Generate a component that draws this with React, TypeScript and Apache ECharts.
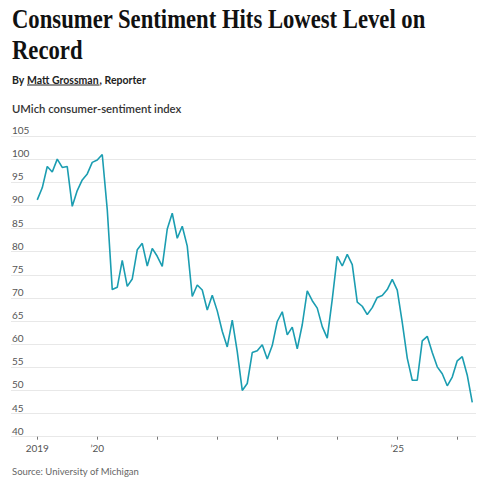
import React, { useEffect, useRef } from "react";
import * as echarts from "echarts";

// Monthly UMich consumer-sentiment index, Jan 2019 – Apr 2026
const startYear = 2019;
const values2019 = [91.2, 93.8, 98.4, 97.2, 100.0, 98.2, 98.4, 89.8, 93.2, 95.5, 96.8, 99.3];
const values2020 = [99.8, 101.0, 89.1, 71.8, 72.3, 78.1, 72.5, 74.1, 80.4, 81.8, 76.9, 80.7];
const values2021 = [79.0, 76.8, 84.9, 88.3, 82.9, 85.5, 81.2, 70.3, 72.8, 71.7, 67.4, 70.6];
const values2022 = [67.2, 62.8, 59.4, 65.2, 58.4, 50.0, 51.5, 58.2, 58.6, 59.9, 56.8, 59.7];
const values2023 = [64.9, 67.0, 62.0, 63.7, 59.0, 64.2, 71.5, 69.4, 67.8, 63.8, 61.3, 69.7];
const values2024 = [79.0, 76.9, 79.4, 77.2, 69.1, 68.2, 66.4, 67.9, 70.1, 70.5, 71.8, 74.0];
const values2025 = [71.7, 64.7, 57.0, 52.2, 52.2, 60.7, 61.7, 58.2, 55.1, 53.6, 51.0, 52.9];
const values2026 = [56.4, 57.3, 53.3, 47.4];

const yearTicks = [2019, 2020, 2021, 2022, 2023, 2024, 2025, 2026];
const yearLabels: Record<number, string> = { 2019: "2019", 2020: "\u201920", 2025: "\u201925" };
const yTicks = [40, 45, 50, 55, 60, 65, 70, 75, 80, 85, 90, 95, 100, 105];

const title1 = "Consumer Sentiment Hits Lowest Level on";
const title2 = "Record";
const bylinePrefix = "By ";
const bylineName = "Matt Grossman";
const bylineSuffix = ", Reporter";
const subtitle = "UMich consumer-sentiment index";
const source = "Source: University of Michigan";

const LINE_COLOR = "#1b9db1";
const SANS = "Lato, 'Noto Sans', sans-serif";

export default function App() {
  const ref = useRef<HTMLDivElement>(null);

  useEffect(() => {
    document.body.style.margin = "0";
    if (!ref.current) return;
    const chart = echarts.init(ref.current, undefined, { renderer: "svg" });

    const allValues = [
      ...values2019, ...values2020, ...values2021, ...values2022,
      ...values2023, ...values2024, ...values2025, ...values2026,
    ];
    const data = allValues.map((v, i) => [i, v]);
    const tickMonths = yearTicks.map((y) => (y - startYear) * 12);
    const labelMonths = tickMonths.filter((m) => yearLabels[startYear + m / 12] !== undefined);

    const titleStyle = {
      fontFamily: "'Liberation Serif', serif",
      fontWeight: "bold",
      fontSize: 28,
      fill: "#111",
      verticalAlign: "top",
    };
    const bylineStyle = { fontFamily: SANS, fontWeight: "bold", fontSize: 10.5, fill: "#222", verticalAlign: "middle" };

    chart.setOption({
      animation: false,
      grid: { left: 11, right: 10, top: 136, bottom: 48.3, containLabel: false },
      xAxis: {
        type: "value",
        min: -5.25,
        max: 87.75,
        axisLine: { show: false },
        splitLine: { show: false },
        axisTick: {
          show: true,
          customValues: tickMonths,
          length: 3,
          lineStyle: { color: "#777", width: 1 },
        },
        axisLabel: {
          customValues: labelMonths,
          formatter: (v: number) => yearLabels[startYear + Math.round(v / 12)] || "",
          color: "#555",
          fontFamily: SANS,
          fontSize: 10,
          margin: 6,
        },
      },
      yAxis: {
        type: "value",
        min: 40,
        max: 105,
        interval: 5,
        axisLine: { show: false },
        axisTick: { show: false },
        splitLine: { show: true, lineStyle: { color: "#e8e8e8", width: 1.2 } },
        axisLabel: {
          inside: true,
          align: "left",
          verticalAlign: "bottom",
          margin: 1,
          padding: [0, 0, 1, 0],
          color: "#555",
          fontFamily: SANS,
          fontSize: 10,
          customValues: yTicks,
        },
      },
      series: [
        {
          type: "line",
          data,
          symbol: "none",
          lineStyle: { color: LINE_COLOR, width: 1.6 },
          z: 5,
        },
      ],
      graphic: [
        { type: "text", x: 12, y: 5, scaleX: 0.81, style: { text: title1, ...titleStyle } },
        { type: "text", x: 12, y: 36, scaleX: 0.81, style: { text: title2, ...titleStyle } },
        { type: "text", x: 12, y: 80, style: { text: bylinePrefix, ...bylineStyle } },
        { type: "text", x: 27, y: 80, style: { text: bylineName, ...bylineStyle } },
        {
          type: "line",
          shape: { x1: 27, y1: 85, x2: 99.5, y2: 85 },
          style: { stroke: "#222", lineWidth: 1 },
        },
        { type: "text", x: 99.5, y: 80, style: { text: bylineSuffix, ...bylineStyle } },
        {
          type: "text",
          x: 12,
          y: 108,
          style: { text: subtitle, fontFamily: SANS, fontWeight: 600, fontSize: 11.3, fill: "#333", verticalAlign: "middle" },
        },
        {
          type: "text",
          x: 12,
          y: 471,
          style: { text: source, fontFamily: SANS, fontSize: 9.5, fill: "#666", verticalAlign: "middle" },
        },
      ],
    });

    return () => chart.dispose();
  }, []);

  return <div ref={ref} style={{ width: 486, height: 485 }} />;
}
